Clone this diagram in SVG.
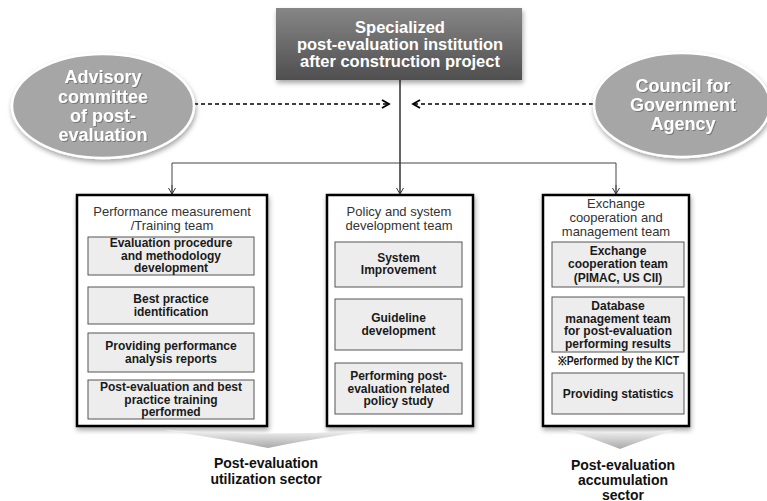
<svg xmlns="http://www.w3.org/2000/svg" width="767" height="501" viewBox="0 0 767 501">
<defs>
<linearGradient id="gTop" x1="0" y1="0" x2="0" y2="1"><stop offset="0" stop-color="#868686"/><stop offset="1" stop-color="#4f4f4f"/></linearGradient>
<linearGradient id="gChev" x1="0" y1="0" x2="0" y2="1"><stop offset="0" stop-color="#f4f4f4"/><stop offset="1" stop-color="#a9a9a9"/></linearGradient>
<filter id="sh" x="-20%" y="-20%" width="140%" height="150%"><feDropShadow dx="1" dy="3" stdDeviation="2.5" flood-color="#000" flood-opacity="0.35"/></filter>
<filter id="tsh" x="-10%" y="-10%" width="120%" height="130%"><feDropShadow dx="1" dy="1" stdDeviation="0.6" flood-color="#555" flood-opacity="0.6"/></filter>
<marker id="ah" markerWidth="10" markerHeight="10" refX="8" refY="5" orient="auto" markerUnits="userSpaceOnUse"><path d="M1,1 L8,5 L1,9" fill="none" stroke="#000" stroke-width="1.8"/></marker>
<marker id="ad" markerWidth="10" markerHeight="10" refX="8" refY="5" orient="auto" markerUnits="userSpaceOnUse"><path d="M2,1.5 L8,5 L2,8.5" fill="none" stroke="#333" stroke-width="1"/></marker>
<style>
.wt{font-family:"Liberation Sans",Arial,sans-serif;font-weight:bold;fill:#fff;text-anchor:middle}
.tt{font-family:"Liberation Sans",Arial,sans-serif;font-size:13px;fill:#333;text-anchor:middle}
.it{font-family:"Liberation Sans",Arial,sans-serif;font-size:12px;font-weight:bold;fill:#1a1a1a;text-anchor:middle}
.bt{font-family:"Liberation Sans",Arial,sans-serif;font-size:14px;font-weight:bold;fill:#111;text-anchor:middle}
.outer{fill:#fff;stroke:#000;stroke-width:2.5}
.inner{fill:#ededed;stroke:#555;stroke-width:1}
.ell{fill:#a6a6a6;stroke:#fff;stroke-width:2.5}
</style>
</defs>
<rect width="767" height="501" fill="#fff"/>

<g id="connectors" fill="none">
<line x1="400" y1="80" x2="400" y2="194" stroke="#111" stroke-width="1.3" marker-end="url(#ad)"/>
<polyline points="172,194 172,163 616,163 616,194" stroke="#444" stroke-width="1"/>
<line x1="172" y1="185" x2="172" y2="194" stroke="#444" stroke-width="1" marker-end="url(#ad)"/>
<line x1="616" y1="185" x2="616" y2="194" stroke="#444" stroke-width="1" marker-end="url(#ad)"/>
<line x1="194" y1="104" x2="389" y2="104" stroke="#000" stroke-width="1.5" stroke-dasharray="4,3" marker-end="url(#ah)"/>
<line x1="593" y1="104" x2="413" y2="104" stroke="#000" stroke-width="1.5" stroke-dasharray="4,3" marker-end="url(#ah)"/>
</g>

<g id="top">
<rect x="276" y="8" width="246" height="72" fill="url(#gTop)" filter="url(#sh)"/>
<g class="wt" font-size="16.5">
<text x="400" y="33">Specialized</text>
<text x="400" y="50">post-evaluation institution</text>
<text x="400" y="67">after construction project</text>
</g>
</g>

<g id="advisory">
<ellipse cx="103" cy="106" rx="91" ry="52" class="ell" filter="url(#sh)"/>
<g class="wt" font-size="18" filter="url(#tsh)">
<text x="103" y="83">Advisory</text>
<text x="103" y="103">committee</text>
<text x="103" y="122">of post-</text>
<text x="103" y="141">evaluation</text>
</g>
</g>

<g id="council">
<ellipse cx="682" cy="105" rx="88" ry="52" class="ell" filter="url(#sh)"/>
<g class="wt" font-size="18" filter="url(#tsh)">
<text x="683" y="92">Council for</text>
<text x="683" y="111">Government</text>
<text x="683" y="130">Agency</text>
</g>
</g>

<g id="perf">
<rect x="77" y="195" width="190" height="231" class="outer" filter="url(#sh)"/>
<text class="tt" x="172" y="216">Performance measurement</text>
<text class="tt" x="172" y="230">/Training team</text>
<rect x="88" y="237" width="166" height="38" class="inner"/>
<text class="it" x="171" y="247">Evaluation procedure</text>
<text class="it" x="171" y="259.5">and methodology</text>
<text class="it" x="171" y="272">development</text>
<rect x="88" y="287" width="166" height="37" class="inner"/>
<text class="it" x="171" y="303">Best practice</text>
<text class="it" x="171" y="316">identification</text>
<rect x="88" y="333" width="166" height="39" class="inner"/>
<text class="it" x="171" y="350">Providing performance</text>
<text class="it" x="171" y="362.5">analysis reports</text>
<rect x="88" y="380" width="166" height="39" class="inner"/>
<text class="it" x="171" y="391">Post-evaluation and best</text>
<text class="it" x="171" y="403.5">practice training</text>
<text class="it" x="171" y="416">performed</text>
</g>

<g id="policy">
<rect x="327" y="195" width="146" height="231" class="outer" filter="url(#sh)"/>
<text class="tt" x="399" y="216">Policy and system</text>
<text class="tt" x="399" y="230">development team</text>
<rect x="335" y="242" width="127" height="45" class="inner"/>
<text class="it" x="398.5" y="261.5">System</text>
<text class="it" x="398.5" y="274">Improvement</text>
<rect x="335" y="299" width="127" height="51" class="inner"/>
<text class="it" x="398.5" y="321.5">Guideline</text>
<text class="it" x="398.5" y="335">development</text>
<rect x="335" y="363" width="127" height="51" class="inner"/>
<text class="it" x="398.5" y="380">Performing post-</text>
<text class="it" x="398.5" y="392.5">evaluation related</text>
<text class="it" x="398.5" y="405">policy study</text>
</g>

<g id="exchange">
<rect x="543" y="195" width="146" height="231" class="outer" filter="url(#sh)"/>
<text class="tt" x="616" y="208">Exchange</text>
<text class="tt" x="616" y="222">cooperation and</text>
<text class="tt" x="616" y="236">management team</text>
<rect x="552" y="242" width="132" height="45" class="inner"/>
<text class="it" x="618" y="255">Exchange</text>
<text class="it" x="618" y="268">cooperation team</text>
<text class="it" x="618" y="281.5">(PIMAC, US CII)</text>
<rect x="552" y="297" width="132" height="55" class="inner"/>
<text class="it" x="618" y="310">Database</text>
<text class="it" x="618" y="322.5">management team</text>
<text class="it" x="618" y="335">for post-evaluation</text>
<text class="it" x="618" y="348">performing results</text>
<text class="it" x="618.5" y="365" font-size="9.5" textLength="121" lengthAdjust="spacingAndGlyphs">※Performed by the KICT</text>
<rect x="552" y="373" width="132" height="41" class="inner"/>
<text class="it" x="618" y="397.5">Providing statistics</text>
</g>

<g id="utilization">
<path d="M163,430 Q268,437 373,430 Q300,441 268,448 Q236,441 163,430 Z" fill="url(#gChev)"/>
<text class="bt" x="266" y="468">Post-evaluation</text>
<text class="bt" x="266" y="484">utilization sector</text>
</g>

<g id="accumulation">
<path d="M567,430 Q620,436 675,430 Q640,441 620,449 Q600,441 567,430 Z" fill="url(#gChev)"/>
<text class="bt" x="623" y="469.5">Post-evaluation</text>
<text class="bt" x="623" y="484.5">accumulation</text>
<text class="bt" x="623" y="499.5">sector</text>
</g>
</svg>
